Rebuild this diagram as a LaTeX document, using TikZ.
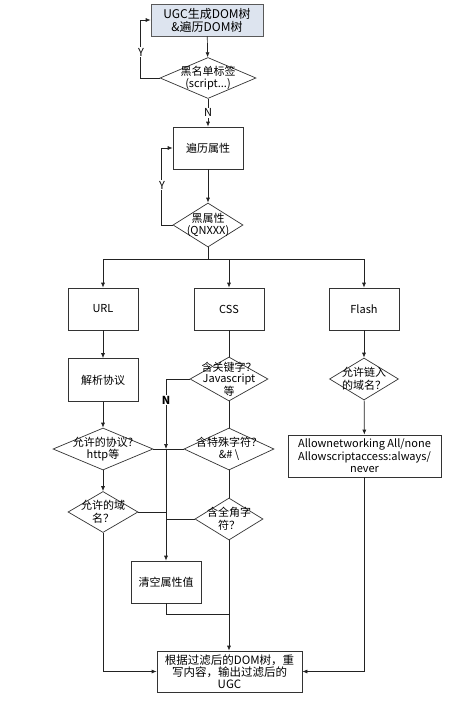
\documentclass[tikz,border=0pt]{standalone}
\usepackage{fontspec}
\setmainfont{Noto Sans CJK SC}
\usetikzlibrary{shapes.geometric,arrows.meta}
\definecolor{topfill}{HTML}{DDE4EF}
\definecolor{lncol}{HTML}{222222}
\begin{document}
\begin{tikzpicture}[x=1pt,y=-1pt,
  font=\fontsize{11}{12.5}\selectfont,
  box/.style={draw=black!80, rectangle, minimum width=70pt, minimum height=42pt, inner sep=1pt, align=center, line width=0.7pt},
  dia/.style={draw=black!80, diamond, inner sep=0pt, line width=0.7pt},
  ln/.style={draw=lncol, line width=0.7pt},
  arr/.style={ln, -{Latex[length=5pt,width=4pt]}},
  lab/.style={fill=white, inner sep=1pt}]
\useasboundingbox[fill=white] (0,0) rectangle (463,715);

% nodes
\node[box, fill=topfill, draw=black!65, minimum width=112pt, minimum height=32pt, font=\fontsize{12}{13}\selectfont] (b0) at (207,20) {UGC生成DOM树\\\&遍历DOM树};
\node[dia, minimum width=96pt, minimum height=41pt, label={[align=center]center:黑名单标签\\(script...)}] (d1) at (208,78) {};
\node[box] (b1) at (208,148) {遍历属性};
\node[dia, minimum width=70pt, minimum height=44pt, label={[align=center]center:黑属性\\(QNXXX)}] (d2) at (208,225) {};
\coordinate (s) at (208,259);
\node[box] (url) at (103,309) {URL};
\node[box] (css) at (229,309) {CSS};
\node[box] (flash) at (364,309) {Flash};
\node[box, minimum height=43pt] (parse) at (103,380) {解析协议};
\node[dia, minimum width=100pt, minimum height=42pt, label={[align=center]center:允许的协议?\\http等}] (d7) at (103,449) {};
\node[dia, minimum width=70pt, minimum height=41pt, label={[align=center]center:允许的域\\名？}] (d8) at (103,512) {};
\node[dia, minimum width=78pt, minimum height=44pt, label={[align=center, font=\fontsize{11}{11.5}\selectfont]center:含关键字？\\Javascript\\等}] (d9) at (229,379) {};
\node[dia, minimum width=90pt, minimum height=42pt, label={[align=center]center:含特殊字符？\\\&\# \textbackslash}] (d10) at (229,449) {};
\node[dia, minimum width=68pt, minimum height=42pt, label={[align=center]center:含全角字\\符？}] (d11) at (229,519) {};
\node[box] (clear) at (166,582) {清空属性值};
\node[box, minimum width=145pt, minimum height=41pt, inner sep=0pt, font=\fontsize{11.5}{12}\selectfont] (final) at (229.5,671.5) {根据过滤后的DOM树，重\\写内容，输出过滤后的\\UGC};
\node[dia, minimum width=69pt, minimum height=42pt, label={[align=center]center:允许链入\\的域名？}] (fd) at (364,379) {};
\node[box, minimum width=153pt, minimum height=42pt, inner sep=0pt] (fa) at (364.5,456) {Allownetworking All/none\\Allowscriptaccess:always/\\never};
\coordinate (j1) at (166,449);
\coordinate (m) at (229,614);

% connectors
\draw[arr] (b0) -- (d1);
\draw[arr] (d1.west) -- ++(-19,0) |- (b0.west);
\node[lab] (y1) at (141,52) {Y};
\draw[arr] (d1) -- node[lab]{N} (b1);
\draw[arr] (b1) -- (d2);
\draw[arr] (d2.west) -- ++(-11,0) |- (b1.west);
\node[lab] (y2) at (162,185) {Y};
\draw[ln] (d2.south) -- (s);
\draw[arr] (s) -| (url.north);
\draw[arr] (s) -| (css.north);
\draw[arr] (s) -| (flash.north);
\draw[arr] (url) -- (parse);
\draw[arr] (parse) -- (d7);
\draw[arr] (d7) -- (d8);
\draw[arr] (d8.south) |- (final.west);
\draw[ln] (css) -- (d9);
\draw[ln] (d9) -- (d10);
\draw[ln] (d10) -- (d11);
\draw[arr] (d11.south) -- (d11.south |- final.north);
\draw[ln] (clear.south) |- (m);
\draw[arr] (d9.west) -| (j1);
\node[lab, font=\fontsize{11}{12}\selectfont\bfseries] (nn) at (166,400) {N};
\draw[ln] (d7.east) -- (d10.west);
\draw[arr] (j1) -- (clear.north);
\draw[ln] (d8.east) -- (d8.east -| j1);
\draw[ln] (d11.west) -- (d11.west -| j1);
\draw[arr] (flash) -- (fd);
\draw[arr] (fd) -- (fa);
\draw[arr] (fa.south) |- (final.east);
\end{tikzpicture}
\end{document}
